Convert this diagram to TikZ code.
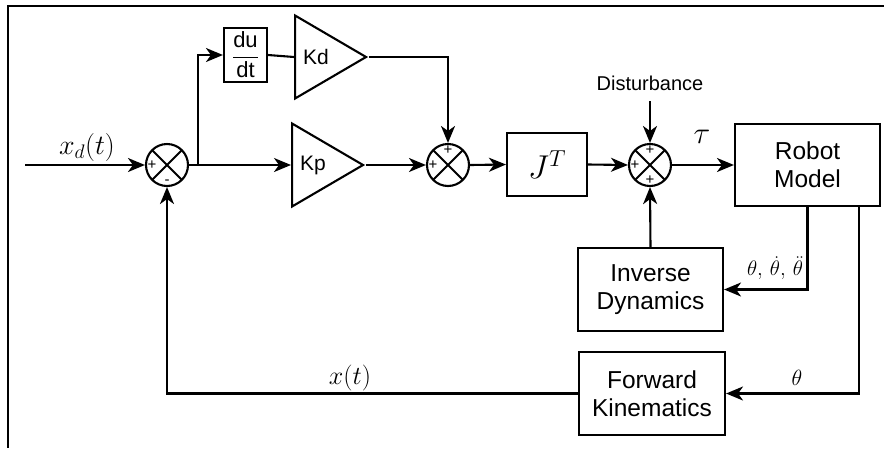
\RequirePackage{fix-cm}
\documentclass[tikz,border=0pt]{standalone}
\usepackage{amsmath}
\usepackage[no-math]{fontspec}
\setmainfont{Liberation Sans}
\usetikzlibrary{arrows.meta,positioning,calc,shapes.geometric}
\definecolor{ink}{HTML}{000000}
\newcommand{\fs}[1]{\fontsize{#1}{#1}\selectfont}

\begin{document}
\begin{tikzpicture}[x=1pt,y=-1pt,line width=2.1pt,draw=ink,
  >={Stealth[length=17pt,width=14pt,inset=5pt]},
  block/.style={draw,rectangle,align=center,inner sep=0pt,font=\fontsize{24.5}{28}\selectfont},
  gain/.style={draw,isosceles triangle,isosceles triangle stretches,inner sep=0pt,
    minimum width=83pt,minimum height=71pt,anchor=west},
  gtxt/.style={anchor=west,xshift=8pt,inner sep=0pt,font=\fs{21}},
  sumj/.style={draw,circle,minimum size=42pt,inner sep=0pt,
    path picture={\draw (path picture bounding box.north west) -- (path picture bounding box.south east)
      (path picture bounding box.north east) -- (path picture bounding box.south west);}},
  sgn/.style={inner sep=1.5pt,font=\fs{15}},
  mlbl/.style={inner sep=0pt}]
  \useasboundingbox (0,0) rectangle (884,448);
  % frame, open to the right and below
  \draw[line width=2.2pt] (884,6) -- (8,6) -- (8,448);

  % forward path
  \coordinate (in) at (25,165);
  \node[sumj,label={[sgn,anchor=west]west:+},label={[sgn,anchor=south]south:-}] (s1) at (167,165) {};
  \coordinate (br) at (198,165);
  \node[block,minimum width=43pt,minimum height=54pt,inner sep=1pt,font=\fs{22}] (dudt) at (245.5,55) {$\dfrac{\text{du}}{\text{dt}}$};
  \node[gain,label={[gtxt]west:Kd}] (kd) at (294,57) {};
  \node[gain,label={[gtxt]west:Kp}] (kp) at (291,165) {};
  \node[sumj,label={[sgn,anchor=west]west:+},label={[sgn,anchor=north]north:+}] (s2) at (448,165) {};
  \node[block,minimum width=80pt,minimum height=63pt,font=\fs{33}] (jt) at (547,164.5) {$J^T$};
  \node[sumj,label={[sgn,anchor=west]west:+},label={[sgn,anchor=north]north:+},
    label={[sgn,anchor=south]south:+}] (s3) at (650,165) {};
  \node[inner sep=0pt,outer sep=11pt,font=\fs{20}] (dist) at (650,83) {Disturbance};
  \node[block,minimum width=145pt,minimum height=82pt] (robot) at (807.5,165) {Robot\\Model};

  % feedback blocks
  \node[block,minimum width=145pt,minimum height=83pt] (inv) at (650.5,289.5) {Inverse\\Dynamics};
  \node[block,minimum width=146pt,minimum height=83pt] (fk) at (652,393.5) {Forward\\Kinematics};

  % signal labels
  \node[mlbl,font=\fs{28}] (xdl) at (87,147) {$x_d(t)$};
  \node[mlbl,font=\fs{31}] (taul) at (702,137) {$\tau$};
  \node[mlbl,font=\fs{21}] (thl) at (775,268) {$\theta,\,\dot{\theta},\,\ddot{\theta}$};
  \node[mlbl,font=\fs{22}] (th1) at (797,378) {$\theta$};
  \node[mlbl,font=\fs{26}] (xl) at (350,378) {$x(t)$};

  % connectors
  \draw[->] (in) -- (s1.west);
  \draw (s1.east) -- (br);
  \draw[->] (br) |- (dudt.west);
  \draw (dudt.east) -- (kd.west);
  \draw[->] (br) -- (kp.west);
  \draw[->] (kd.east) -| (s2.north);
  \draw[->] (kp.east) -- (s2.west);
  \draw[->] (s2.east) -- (jt.west);
  \draw[->] (jt.east) -- (s3.west);
  \draw[->] (dist.south) -- (s3.north);
  \draw[->] (s3.east) -- (robot.west);
  \draw[->] (robot.south) |- (inv.east);
  \draw[->] (inv.north) -- (s3.south);
  \draw[->] ([xshift=51.5pt]robot.south) |- (fk.east);
  \draw[->] (fk.west) -| (s1.south);
\end{tikzpicture}
\end{document}
